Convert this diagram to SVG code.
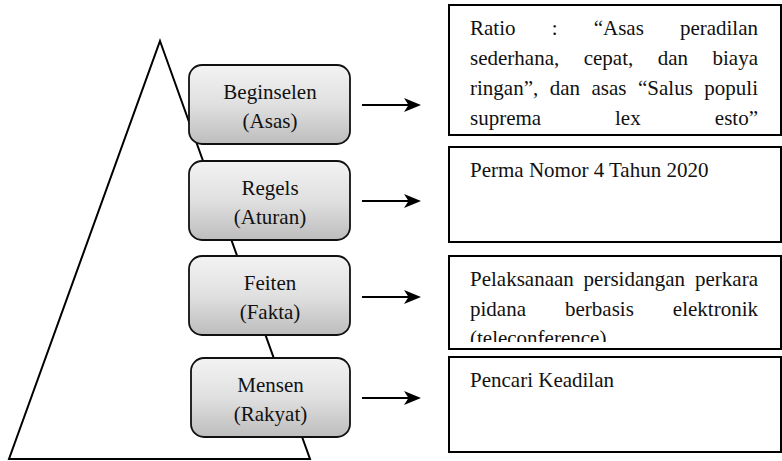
<svg xmlns="http://www.w3.org/2000/svg" width="782" height="461" viewBox="0 0 782 461">
  <defs>
    <linearGradient id="gBox" x1="0" y1="0" x2="0" y2="1">
      <stop offset="0" stop-color="#f3f3f3"/>
      <stop offset="0.5" stop-color="#e0e0e0"/>
      <stop offset="1" stop-color="#bdbdbd"/>
    </linearGradient>
    <marker id="arrow" viewBox="-18 -8 19 16" refX="-9" refY="0" markerWidth="19" markerHeight="16" markerUnits="userSpaceOnUse" orient="auto">
      <path d="M0,0 L-17,-7 L-12.5,0 L-17,7 Z" fill="#000"/>
    </marker>
    <clipPath id="clipC">
      <rect x="449" y="256" width="332" height="86"/>
    </clipPath>
  </defs>
  <style>
    .lvl { fill: url(#gBox); stroke: #111; stroke-width: 1.8; }
    .box { fill: #fff; stroke: #000; stroke-width: 2; }
    .t { font-family: "Liberation Serif", "Times New Roman", serif; font-size: 21px; fill: #111; }
    .c { text-anchor: middle; }
    .e { text-anchor: end; }
    .conn { stroke: #000; stroke-width: 2; fill: none; marker-end: url(#arrow); }
  </style>
  <rect width="782" height="461" fill="#fff"/>

  <g id="pyramid">
    <path d="M160,41 L310,459 L9,459 Z" fill="#fff" stroke="#000" stroke-width="2" stroke-linejoin="miter"/>
  </g>

  <g id="node-beginselen">
    <rect class="lvl" x="189" y="65" width="161" height="79" rx="13" ry="13"/>
    <text class="t c" x="270" y="99">Beginselen</text>
    <text class="t c" x="270" y="128">(Asas)</text>
  </g>
  <g id="node-regels">
    <rect class="lvl" x="189" y="161" width="161" height="79" rx="13" ry="13"/>
    <text class="t c" x="270" y="195">Regels</text>
    <text class="t c" x="270" y="224">(Aturan)</text>
  </g>
  <g id="node-feiten">
    <rect class="lvl" x="189" y="256" width="161" height="79" rx="13" ry="13"/>
    <text class="t c" x="270" y="290">Feiten</text>
    <text class="t c" x="270" y="319">(Fakta)</text>
  </g>
  <g id="node-mensen">
    <rect class="lvl" x="191" y="358" width="159" height="79" rx="13" ry="13"/>
    <text class="t c" x="270.5" y="392">Mensen</text>
    <text class="t c" x="270.5" y="421">(Rakyat)</text>
  </g>

  <g id="box-ratio">
    <rect class="box" x="449" y="5" width="332" height="130"/>
    <text class="t" y="35"><tspan x="470">Ratio</tspan><tspan x="551.7">:</tspan><tspan x="593.7">“Asas</tspan></text>
    <text class="t e" x="758" y="35">peradilan</text>
    <text class="t" y="65"><tspan x="470">sederhana,</tspan><tspan x="583.7">cepat,</tspan><tspan x="657.8">dan</tspan></text>
    <text class="t e" x="758" y="65">biaya</text>
    <text class="t" y="95"><tspan x="470">ringan”,</tspan><tspan x="549.7">dan</tspan><tspan x="591.5">asas</tspan><tspan x="638">“Salus</tspan></text>
    <text class="t e" x="758" y="95">populi</text>
    <text class="t" y="125"><tspan x="470">suprema</tspan><tspan x="615">lex</tspan></text>
    <text class="t e" x="758" y="125">esto”</text>
  </g>
  <g id="box-perma">
    <rect class="box" x="449" y="147" width="332" height="95"/>
    <text class="t" x="470" y="177">Perma Nomor 4 Tahun 2020</text>
  </g>
  <g id="box-pelaksanaan">
    <rect class="box" x="449" y="256" width="332" height="93"/>
    <g clip-path="url(#clipC)">
      <text class="t" y="286"><tspan x="470">Pelaksanaan</tspan><tspan x="583.6">persidangan</tspan></text>
      <text class="t e" x="758" y="286">perkara</text>
      <text class="t" y="316"><tspan x="470">pidana</tspan><tspan x="565">berbasis</tspan></text>
      <text class="t e" x="758" y="316">elektronik</text>
      <text class="t" x="470" y="345">(teleconference)</text>
    </g>
  </g>
  <g id="box-pencari">
    <rect class="box" x="449" y="357" width="332" height="95"/>
    <text class="t" x="470" y="387">Pencari Keadilan</text>
  </g>

  <g id="connectors">
    <line class="conn" x1="362" y1="105" x2="412" y2="105"/>
    <line class="conn" x1="362" y1="201" x2="412" y2="201"/>
    <line class="conn" x1="362" y1="297" x2="412" y2="297"/>
    <line class="conn" x1="362" y1="398" x2="412" y2="398"/>
  </g>
</svg>
